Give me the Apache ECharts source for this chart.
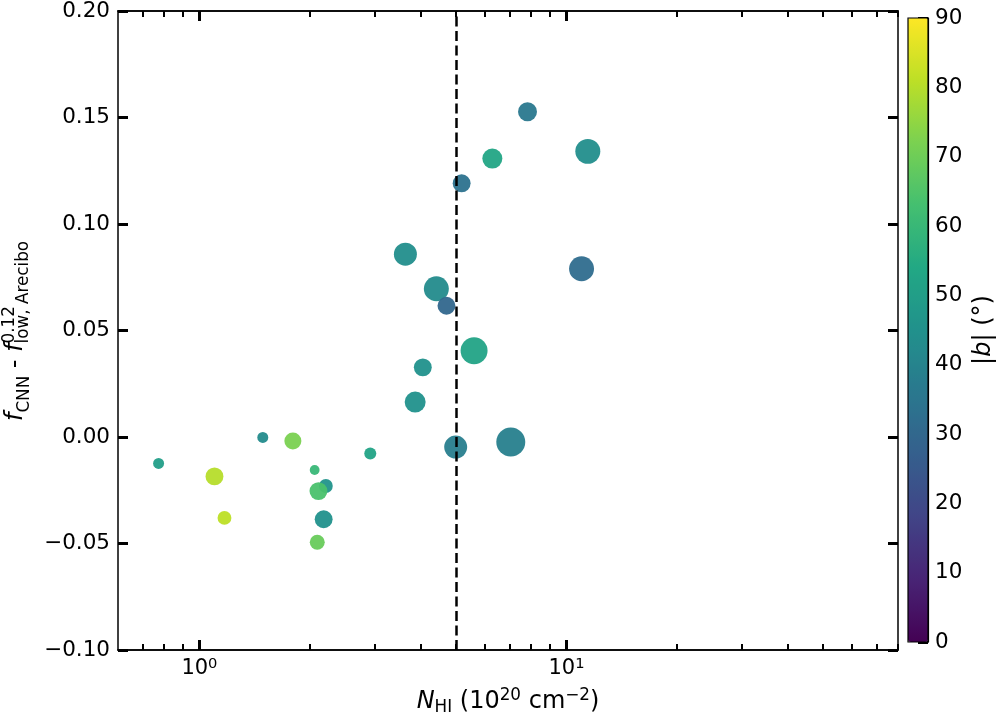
<!DOCTYPE html>
<html>
<head>
<meta charset="utf-8">
<title>f_CNN - f_low vs N_HI</title>
<script src="https://cdn.jsdelivr.net/npm/echarts@6/dist/echarts.min.js"></script>
<style>
  html, body { margin: 0; padding: 0; background: #fff; }
  #chart { width: 999px; height: 720px; }
</style>
</head>
<body>
<div id="chart"></div>
<script>
/* ---------- data ---------- */
// N_HI in 1e20 cm^-2
const nHI = [0.774, 1.488, 1.797, 1.099, 1.17, 2.06, 2.21, 2.11, 2.18, 2.094, 2.92,
             7.83, 11.43, 6.28, 5.18, 3.64, 10.99, 4.42, 4.71, 5.6, 4.06, 3.87, 4.99, 7.05];
// f_CNN - f_low,Arecibo
const deltaF = [-0.0124, -0.0002, -0.0019, -0.0185, -0.038, -0.0155, -0.023, -0.0254, -0.0386, -0.0494, -0.0078,
                0.1527, 0.1341, 0.1307, 0.1191, 0.0858, 0.079, 0.0696, 0.0616, 0.0405, 0.0327, 0.0164, -0.0047, -0.0023];
// |b| in degrees (colour)
const absB = [50, 43, 72, 80, 81, 60, 46, 64, 45, 69, 52,
              36, 44, 53, 34, 44, 32, 43, 30, 52, 45, 45, 38, 39];
// marker weight (area-like, drives symbol size)
const markerWeight = [7.5, 7.5, 18, 20, 12, 6, 12, 20, 20, 14, 9,
                      22.5, 39, 25, 20, 33, 39, 39, 20, 45.5, 20, 27.5, 33, 52.5];

const xMajorTicks = [1, 10];
const xMinorTicks = [0.7, 0.8, 0.9, 2, 3, 4, 5, 6, 7, 8, 9, 20, 30, 40, 50, 60, 70, 80];
const nHICut = 5;

/* ---------- styles ---------- */
const FONT = 'DejaVu Sans';
const viridis = ['#440154', '#482475', '#414487', '#355f8d', '#2a788e', '#21918c',
                 '#22a884', '#44bf70', '#7ad151', '#bddf26', '#fde725'];
const spine = { show: true, onZero: false, lineStyle: { color: '#000', width: 1.5 } };
const tickMajor = { show: true, inside: true, length: 10, lineStyle: { color: '#000', width: 3 } };
const tickMinor = { show: true, inside: true, length: 6, lineStyle: { color: '#000', width: 2 } };

// measure text so the math-like labels can be laid out piece by piece
const ctx = document.createElement('canvas').getContext('2d');
function textWidth(t, size, italic) {
  ctx.font = (italic ? 'italic ' : '') + size + 'px "' + FONT + '"';
  return ctx.measureText(t).width;
}
// pieces: {t, s: font size, it: italic, dy: baseline shift, keep: do not advance}
function mathLabel(pieces, x, y, rotation) {
  let cursor = 0;
  const children = [];
  pieces.forEach(function (p) {
    children.push({
      type: 'text', x: cursor, y: (p.dy || 0) - 0.33 * p.s,
      style: { text: p.t, fontSize: p.s, fontFamily: FONT, fontStyle: p.it ? 'italic' : 'normal',
               fill: '#000', align: 'left', verticalAlign: 'middle' }
    });
    if (!p.keep) cursor += textWidth(p.t, p.s, p.it);
  });
  children.forEach(function (c) { c.x -= cursor / 2; });
  return { type: 'group', x: x, y: y, rotation: rotation || 0, silent: true, children: children };
}

function logAxis(position, ticks, tickStyle, withLabels) {
  return {
    type: 'log', logBase: 10, gridIndex: 0, position: position, min: 0.6, max: 80,
    axisLine: spine,
    axisTick: Object.assign({ customValues: ticks }, tickStyle),
    axisLabel: withLabels ? {
      customValues: ticks, margin: 7,
      formatter: function (v) { return '{b|10}{s|' + Math.round(Math.log10(v)) + '}'; },
      rich: {
        b: { fontSize: 21, fontFamily: FONT, color: '#000', lineHeight: 24 },
        s: { fontSize: 14.7, fontFamily: FONT, color: '#000', lineHeight: 10, verticalAlign: 'top' }
      }
    } : { show: false },
    splitLine: { show: false }
  };
}

function valueAxis(position, withLabels) {
  return {
    type: 'value', gridIndex: 0, position: position, min: -0.1, max: 0.2, interval: 0.05,
    axisLine: spine, axisTick: tickMajor, splitLine: { show: false },
    axisLabel: withLabels ? {
      fontSize: 21.5, fontFamily: FONT, color: '#000', margin: 8,
      formatter: function (v) {
        if (Math.abs(v) < 1e-9) return '0.00';
        return (v < 0 ? '\u2212' : '') + Math.abs(v).toFixed(2);
      }
    } : { show: false }
  };
}

const chart = echarts.init(document.getElementById('chart'));
chart.setOption({
  animation: false,
  backgroundColor: '#fff',
  grid: [
    { left: 118, top: 11, width: 780, height: 639 },
    { left: 908, top: 18, width: 20, height: 624, show: true, z: 6,
      backgroundColor: 'transparent', borderColor: '#000', borderWidth: 1.2 }
  ],
  xAxis: [
    logAxis('bottom', xMajorTicks, tickMajor, true),
    logAxis('bottom', xMinorTicks, tickMinor, false),
    logAxis('top', xMajorTicks, tickMajor, false),
    logAxis('top', xMinorTicks, tickMinor, false),
    { type: 'value', gridIndex: 1, min: 0, max: 1, show: false }
  ],
  yAxis: [
    valueAxis('left', true),
    valueAxis('right', false),
    {
      type: 'value', gridIndex: 1, position: 'right', min: 0, max: 90, interval: 10,
      axisLine: { show: true, onZero: false, lineStyle: { color: '#000', width: 1.2 } },
      axisTick: tickMajor, splitLine: { show: false },
      axisLabel: { fontSize: 21.5, fontFamily: FONT, color: '#000', margin: 7 }
    }
  ],
  visualMap: {
    type: 'continuous', min: 0, max: 90, dimension: 2, seriesIndex: 0,
    calculable: false, orient: 'vertical', left: 908, top: 18, padding: 0,
    itemWidth: 20, itemHeight: 624, text: null,
    inRange: { color: viridis }
  },
  series: [{
    type: 'scatter', xAxisIndex: 0, yAxisIndex: 0,
    data: nHI.map(function (x, i) { return [x, deltaF[i], absB[i], markerWeight[i]]; }),
    symbolSize: function (v) { return 4 * Math.sqrt(v[3]); },
    itemStyle: { opacity: 0.95 },
    markLine: {
      silent: true, symbol: ['none', 'none'], label: { show: false },
      lineStyle: { color: '#000', width: 2.5, type: [10, 4.5] },
      data: [{ xAxis: nHICut }]
    }
  }],
  graphic: [
    // x label: N_HI (10^20 cm^-2)
    mathLabel([
      { t: 'N', s: 24, it: true },
      { t: 'HI', s: 16.8, dy: 3 },
      { t: ' (10', s: 24 },
      { t: '20', s: 16.8, dy: -9 },
      { t: ' cm', s: 24 },
      { t: '\u22122', s: 16.8, dy: -9 },
      { t: ')', s: 24 }
    ], 508, 710, 0),
    // y label: f_CNN - f^0.12_low,Arecibo
    mathLabel([
      { t: 'f', s: 24, it: true },
      { t: 'CNN', s: 16.8, dy: 6 },
      { t: ' - ', s: 24 },
      { t: 'f', s: 24, it: true },
      { t: '0.12', s: 16.8, dy: -9, keep: true },
      { t: 'low, Arecibo', s: 16.8, dy: 5 }
    ], 24, 331, Math.PI / 2),
    // colour bar label: |b| (°)
    mathLabel([
      { t: '|', s: 24 },
      { t: 'b', s: 24, it: true },
      { t: '| (\u00b0)', s: 24 }
    ], 992, 330, Math.PI / 2)
  ]
});
</script>
</body>
</html>
